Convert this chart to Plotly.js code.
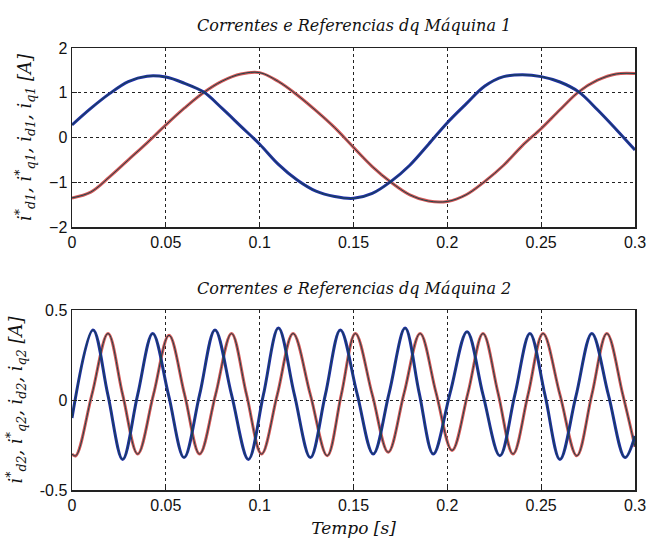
<!DOCTYPE html>
<html>
<head>
<meta charset="utf-8">
<script src="https://cdn.plot.ly/plotly-3.0.1.min.js"></script>
<style>html,body{margin:0;padding:0;background:#fff;}#chart{width:648px;height:538px;}</style>
</head>
<body>
<div id="chart"></div>
<script>
// ---- Machine 1 (top) ----
const m1T = [0,0.01,0.02,0.03,0.04,0.05,0.06,0.07,0.08,0.09,0.10,0.11,0.12,0.13,0.14,0.15,0.16,0.17,0.18,0.19,0.20,0.21,0.22,0.23,0.24,0.25,0.26,0.27,0.28,0.29,0.30];
const m1Blue = [0.28,0.65,0.98,1.25,1.37,1.35,1.21,1.02,0.65,0.25,-0.15,-0.60,-0.95,-1.20,-1.32,-1.36,-1.25,-0.98,-0.62,-0.15,0.33,0.75,1.15,1.36,1.40,1.36,1.24,1.02,0.62,0.18,-0.28];
const m1Red = [-1.35,-1.22,-0.88,-0.50,-0.12,0.28,0.66,1.00,1.26,1.42,1.45,1.25,0.95,0.60,0.22,-0.22,-0.65,-1.00,-1.28,-1.42,-1.43,-1.28,-0.98,-0.62,-0.18,0.20,0.62,1.02,1.28,1.42,1.43];

// ---- Machine 2 (bottom) ----
const m2BlueT = [0,0.0112,0.0191,0.027,0.035,0.043,0.0514,0.0597,0.068,0.0762,0.085,0.094,0.102,0.110,0.1185,0.127,0.135,0.143,0.1518,0.1605,0.169,0.1775,0.185,0.1925,0.2015,0.2105,0.219,0.228,0.236,0.244,0.252,0.260,0.2685,0.277,0.2858,0.2947,0.3];
const m2Blue = [-0.10,0.39,0.03,-0.33,0.03,0.37,0.03,-0.32,0.03,0.39,0.03,-0.33,0.03,0.40,0.03,-0.32,0.03,0.39,0.04,-0.30,0.04,0.40,0.04,-0.30,0.04,0.38,0.03,-0.31,0.03,0.37,0.03,-0.33,0.02,0.37,0.03,-0.32,-0.20];
const m2RedT = [0,0.002,0.0106,0.0192,0.027,0.035,0.0434,0.0517,0.060,0.068,0.0765,0.085,0.093,0.101,0.1094,0.1178,0.127,0.136,0.1435,0.151,0.160,0.1685,0.177,0.1855,0.194,0.2025,0.211,0.219,0.227,0.235,0.243,0.251,0.26,0.269,0.277,0.285,0.2935,0.3];
const m2Red = [-0.30,-0.31,0.03,0.37,0.03,-0.30,0.03,0.36,0.03,-0.30,0.03,0.37,0.03,-0.30,0.03,0.37,0.03,-0.31,0.03,0.37,0.03,-0.29,0.04,0.37,0.04,-0.28,0.04,0.37,0.04,-0.30,0.03,0.37,0.03,-0.31,0.03,0.37,0.03,-0.26];

const xTicks = [0,0.05,0.1,0.15,0.2,0.25,0.3];
const xTickText = ['0','0.05','0.1','0.15','0.2','0.25','0.3'];
const y1Ticks = [-2,-1,0,1,2];
const y2Ticks = [-0.5,0,0.5];
const y2TickText = ['-0.5','0','0.5'];

const titles = ['Correntes e Referencias dq Máquina 1','Correntes e Referencias dq Máquina 2'];
const yTitle1 = 'i<sup>*</sup><sub>d1</sub>, i<sup>*</sup><sub>q1</sub>, i<sub>d1</sub>, i<sub>q1</sub> [A]';
const yTitle2 = 'i<sup>*</sup><sub>d2</sub>, i<sup>*</sup><sub>q2</sub>, i<sub>d2</sub>, i<sub>q2</sub> [A]';
const xTitle = 'Tempo [s]';

const BLUE = 'rgb(30,45,165)';
const RED = 'rgb(212,85,85)';
const REF = 'rgb(25,70,75)';

function meas(x, y, c, xa, ya){return {x:x,y:y,xaxis:xa,yaxis:ya,type:'scatter',mode:'lines',line:{color:c,width:3,shape:'spline',smoothing:1},hoverinfo:'skip'};}
function ref(x, y, xa, ya){return {x:x,y:y,xaxis:xa,yaxis:ya,type:'scatter',mode:'lines',line:{color:REF,width:1,shape:'spline',smoothing:1},hoverinfo:'skip'};}

const data = [
  meas(m1T, m1Red, RED, 'x', 'y'), meas(m1T, m1Blue, BLUE, 'x', 'y'),
  ref(m1T, m1Red, 'x', 'y'), ref(m1T, m1Blue, 'x', 'y'),
  meas(m2RedT, m2Red, RED, 'x2', 'y2'), meas(m2BlueT, m2Blue, BLUE, 'x2', 'y2'),
  ref(m2RedT, m2Red, 'x2', 'y2'), ref(m2BlueT, m2Blue, 'x2', 'y2')
];

const tickFont = {family:'Liberation Sans, Arial, sans-serif', size:16, color:'#111'};
const serifIt = {family:'DejaVu Serif, serif', size:16, color:'#111', style:'italic'};
const grid = {showgrid:true, gridcolor:'#222', griddash:'dot', gridwidth:1, zeroline:false,
  showline:true, mirror:true, linecolor:'#222', linewidth:1.5, ticks:'inside', ticklen:5, tickcolor:'#222', tickfont:tickFont};

const layout = {
  width:648, height:538, showlegend:false,
  paper_bgcolor:'#fff', plot_bgcolor:'#fff',
  margin:{l:72, r:13, t:48, b:48},
  xaxis:Object.assign({}, grid, {domain:[0,1], range:[0,0.3], tickvals:xTicks, ticktext:xTickText, anchor:'y'}),
  yaxis:Object.assign({}, grid, {domain:[0.595,1], range:[-2,2], tickvals:y1Ticks, anchor:'x',
    title:{text:yTitle1, font:Object.assign({}, serifIt, {size:18}), standoff:12}}),
  xaxis2:Object.assign({}, grid, {domain:[0,1], range:[0,0.3], tickvals:xTicks, ticktext:xTickText, anchor:'y2',
    title:{text:xTitle, font:Object.assign({}, serifIt, {size:17}), standoff:10}}),
  yaxis2:Object.assign({}, grid, {domain:[0,0.407], range:[-0.5,0.5], tickvals:y2Ticks, ticktext:y2TickText, anchor:'x2',
    title:{text:yTitle2, font:Object.assign({}, serifIt, {size:18}), standoff:12}}),
  annotations:[
    {text:titles[0], xref:'paper', yref:'paper', x:0.5, y:1.052, xanchor:'center', yanchor:'middle', showarrow:false, font:serifIt},
    {text:titles[1], xref:'paper', yref:'paper', x:0.5, y:0.457, xanchor:'center', yanchor:'middle', showarrow:false, font:serifIt}
  ]
};

Plotly.newPlot('chart', data, layout, {staticPlot:true, displayModeBar:false});
</script>
</body>
</html>
